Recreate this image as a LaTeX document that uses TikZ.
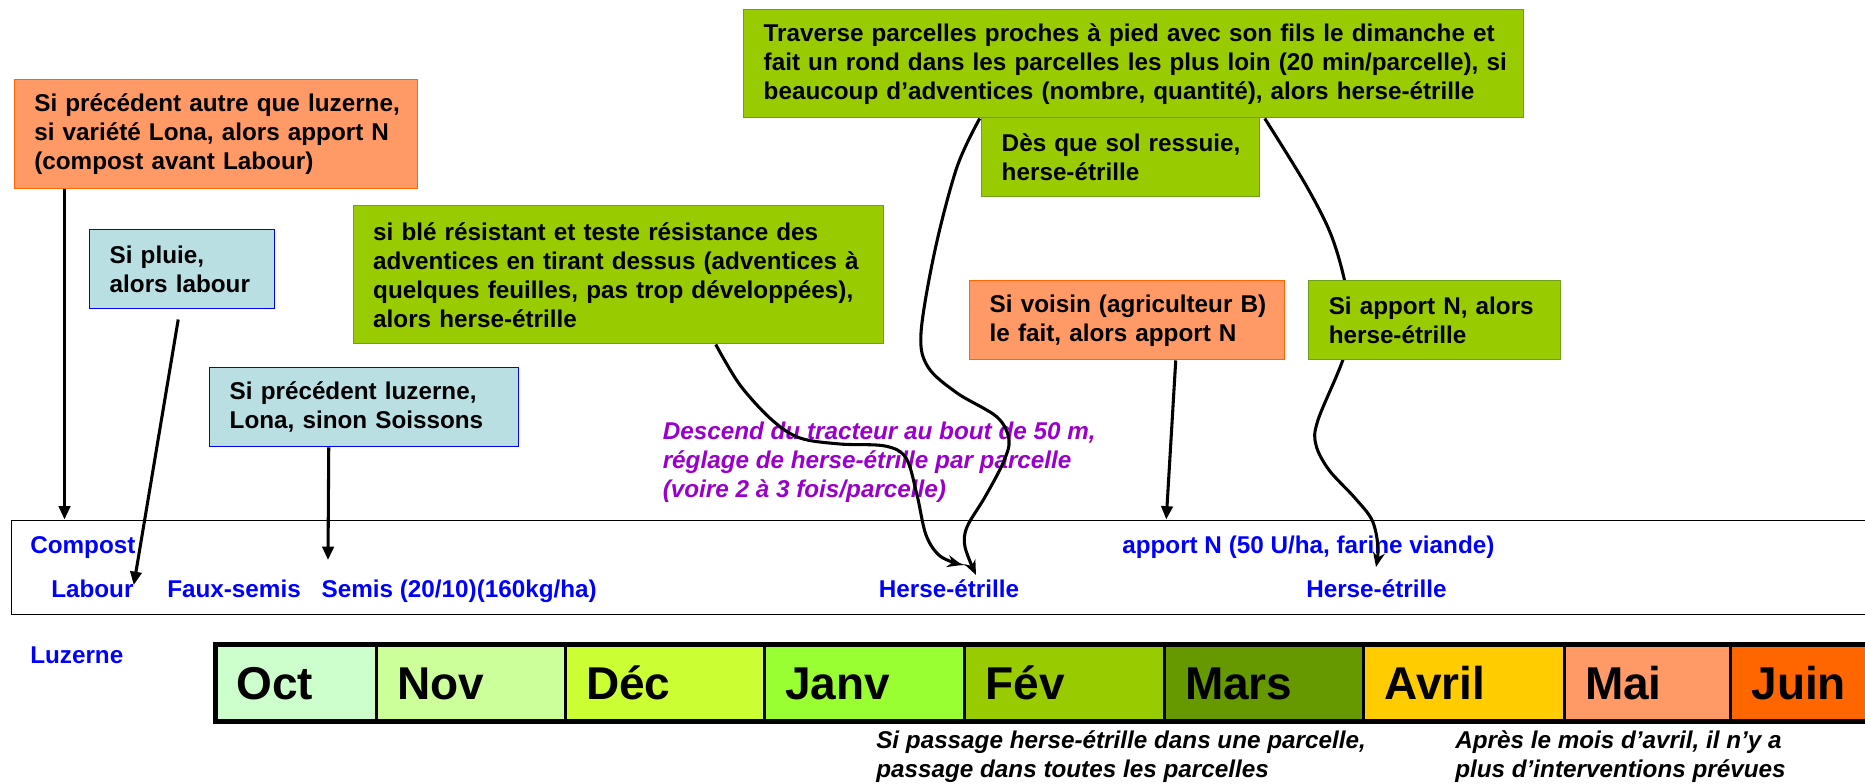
\documentclass[tikz,border=0pt]{standalone}
\usepackage{fontspec}
\setmainfont{Liberation Sans}
\usetikzlibrary{arrows.meta,calc}
\definecolor{orfill}{HTML}{FF9966}
\definecolor{ordraw}{HTML}{FF6600}
\definecolor{blfill}{HTML}{B9DFE3}
\definecolor{bldraw}{HTML}{0000FF}
\definecolor{gnfill}{HTML}{99CC00}
\definecolor{gndraw}{HTML}{6E9E1A}
\definecolor{txtblue}{HTML}{0000FF}
\definecolor{purp}{HTML}{9900CC}
\definecolor{mOct}{HTML}{CCFFCC}
\definecolor{mNov}{HTML}{CCFF99}
\definecolor{mDec}{HTML}{CCFF33}
\definecolor{mJan}{HTML}{99FF33}
\definecolor{mFev}{HTML}{99CC00}
\definecolor{mMar}{HTML}{669900}
\definecolor{mAvr}{HTML}{FFCC00}
\definecolor{mMai}{HTML}{FF9966}
\definecolor{mJui}{HTML}{FF6600}
\newcommand\bxfont{\fontsize{18.2pt}{21.75pt}\selectfont\bfseries}
\newcommand\mofont{\fontsize{34.5pt}{40pt}\selectfont\bfseries}
\begin{document}
\begin{tikzpicture}[x=0.75pt,y=-0.75pt,
  box/.style={draw, line width=1.1pt, font=\bxfont, align=left, anchor=north west, inner ysep=0pt, inner xsep=15pt},
  obox/.style={box, fill=orfill, draw=ordraw},
  bbox/.style={box, fill=blfill, draw=bldraw},
  gbox/.style={box, fill=gnfill, draw=gndraw},
  tltxt/.style={font=\bxfont, text=txtblue, anchor=base west, inner sep=0pt},
  note/.style={font=\bxfont\itshape, anchor=base west, inner sep=0pt, align=left},
  mcell/.style={draw, line width=1.1pt, font=\mofont, anchor=west, minimum height=60pt, text height=24.75pt, text depth=0pt, inner ysep=0pt, inner xsep=15pt, align=left},
  arr/.style={line width=2.3pt, -{Triangle[length=10pt,width=8.5pt]}},
  carr/.style={line width=2.3pt, -{Stealth[length=11pt,width=9pt]}}]
\useasboundingbox (0,0) rectangle (1865,784);
\clip (0,0) rectangle (1865,784);

% timeline frame
\node[draw, line width=1.1pt, anchor=north west, minimum width=1416.75pt, minimum height=70.875pt, inner sep=0pt] (tl) at (11,519.5) {};

% month bar
\node[mcell, fill=mOct, minimum width=121.5pt, text width=87.5pt, inner xsep=17pt] (oct) at (213,683) {Oct};
\node[mcell, fill=mNov, minimum width=140.625pt, text width=110.625pt] (nov) at (oct.east) {Nov};
\node[mcell, fill=mDec, minimum width=148.125pt, text width=118.125pt] (dec) at (nov.east) {Déc};
\node[mcell, fill=mJan, minimum width=149.25pt, text width=119.25pt] (jan) at (dec.east) {Janv};
\node[mcell, fill=mFev, minimum width=148.5pt, text width=118.5pt] (fev) at (jan.east) {Fév};
\node[mcell, fill=mMar, minimum width=148.5pt, text width=118.5pt] (mar) at (fev.east) {Mars};
\node[mcell, fill=mAvr, minimum width=149.25pt, text width=119.25pt] (avr) at (mar.east) {Avril};
\node[mcell, fill=mMai, minimum width=123.75pt, text width=93.75pt] (mai) at (avr.east) {Mai};
\node[mcell, fill=mJui, minimum width=135.75pt, text width=105.75pt] (jui) at (mai.east) {Juin};
\draw[line width=3.75pt] ([shift={(2.5,2.5)}]oct.north west) rectangle ([shift={(0,-2.5)}]jui.south east);

% timeline texts
\node[tltxt] (compost) at (30,553) {Compost};
\node[tltxt] (labour) at (51,597) {Labour};
\node[tltxt] (faux) at (167,597) {Faux-semis};
\node[tltxt] (semis) at (321.4,597) {Semis (20/10)(160kg/ha)};
\node[tltxt] (herse1) at (878.6,597) {Herse-étrille};
\node[tltxt] (apport) at (1122,553) {apport N (50 U/ha, farine viande)};
\node[tltxt] (herse2) at (1306,597) {Herse-étrille};
\node[tltxt] (luz) at (30,663) {Luzerne};

% notes (base anchor = baseline of last line)
\node[note, text=purp] (reglage) at (662.5,497) {Descend du tracteur au bout de 50 m,\\réglage de herse-étrille par parcelle\\(voire 2 à 3 fois/parcelle)};
\node[note] (passage) at (876,777) {Si passage herse-étrille dans une parcelle,\\passage dans toutes les parcelles};
\node[note] (apres) at (1455,777) {Après le mois d’avril, il n’y a\\plus d’interventions prévues};

% boxes
\path
  node[obox, minimum width=302.25pt, minimum height=81.75pt, text width=272.85pt, inner xsep=14.7pt] (o1) at (14,79)
    {\mbox{Si précédent autre que luzerne,}\\\mbox{si variété Lona, alors apport N}\\\mbox{(compost avant Labour)}}
  node[bbox, minimum width=138.75pt, minimum height=59.25pt, text width=108.75pt] (b1) at (89,229)
    {\mbox{Si pluie,}\\\mbox{alors labour}}
  node[bbox, minimum width=231.75pt, minimum height=59.25pt, text width=201.75pt] (b2) at (209,367)
    {\mbox{Si précédent luzerne,}\\\mbox{Lona, sinon Soissons}}
  node[gbox, minimum width=397.5pt, minimum height=103.5pt, text width=368.3pt, inner xsep=14.6pt] (g1) at (353,205)
    {\mbox{si blé résistant et teste résistance des}\\\mbox{adventices en tirant dessus (adventices à}\\\mbox{quelques feuilles, pas trop développées),}\\\mbox{alors herse-étrille}}
  node[gbox, minimum width=585pt, minimum height=81pt, text width=555pt] (gtop) at (743,9)
    {\mbox{Traverse parcelles proches à pied avec son fils le dimanche et}\\\mbox{fait un rond dans les parcelles les plus loin (20 min/parcelle), si}\\\mbox{beaucoup d’adventices (nombre, quantité), alors herse-étrille}}
  node[gbox, minimum width=208.5pt, minimum height=59.25pt, text width=178.5pt] (gdes) at (981,117)
    {\mbox{Dès que sol ressuie,}\\\mbox{herse-étrille}}
  node[obox, minimum width=236.25pt, minimum height=59.25pt, text width=206.25pt] (o2) at (969,280)
    {\mbox{Si voisin (agriculteur B)}\\\mbox{le fait, alors apport N}};

% connector end points
\coordinate (a1s) at ([shift={(50.5,0)}]o1.south west);
\coordinate (a2s) at ([shift={(-4,10)}]b1.south);
\coordinate (a2e) at ([shift={(0,-12)}]labour.base east);
\coordinate (a3s) at ([shift={(-35.5,0)}]b2.south);
\coordinate (a3e) at ([shift={(6.6,-37)}]semis.base west);
\coordinate (a4s) at ([shift={(48.5,0)}]o2.south);
\coordinate (a4x) at ([shift={(39,0)}]o2.south);
\coordinate (c1s) at ([shift={(97,0)}]g1.south);
\coordinate (c1e) at ([shift={(83.4,-32)}]herse1.base west);
\coordinate (c2s) at ([shift={(-154,0)}]gtop.south);
\coordinate (c2e) at ([shift={(97.4,-22)}]herse1.base west);
\coordinate (c3s) at ([shift={(131,0)}]gtop.south);
\coordinate (c3e) at ([shift={(70,-30)}]herse2.base west);

% curved connectors
\draw[carr] plot[smooth, tension=0.55] coordinates {(c1s) (740,385) (772,420) (800,438) (840,444) (885,446) (906,458) (917,495) (926,535) (940,556) (c1e)};
\draw[carr] plot[smooth, tension=0.55] coordinates {(c2s) (957,167) (935,250) (921,333) (928,367) (957,393) (997,417) (1009,440) (1003,463) (985,497) (967,527) (965,547) (c2e)};
\draw[carr] plot[smooth, tension=0.55] coordinates {(c3s) (1307,187) (1333,240) (1348,300) (1346,350) (1318,420) (1316,445) (1329,470) (1354,497) (1372,520) (1378,547) (c3e)};

% straight connectors
\draw[arr] (a1s) -- (a1s |- tl.north);
\draw[arr] (a2s) -- (a2e);
\draw[arr] (a3s) -- (a3e);
\draw[arr] (a4s) -- (a4x |- tl.north);

% box drawn over the curve that passes behind it
\node[gbox, minimum width=189pt, minimum height=59.25pt, text width=159pt] (g2) at (1308,280)
    {\mbox{Si apport N, alors}\\\mbox{herse-étrille}};
\end{tikzpicture}
\end{document}
